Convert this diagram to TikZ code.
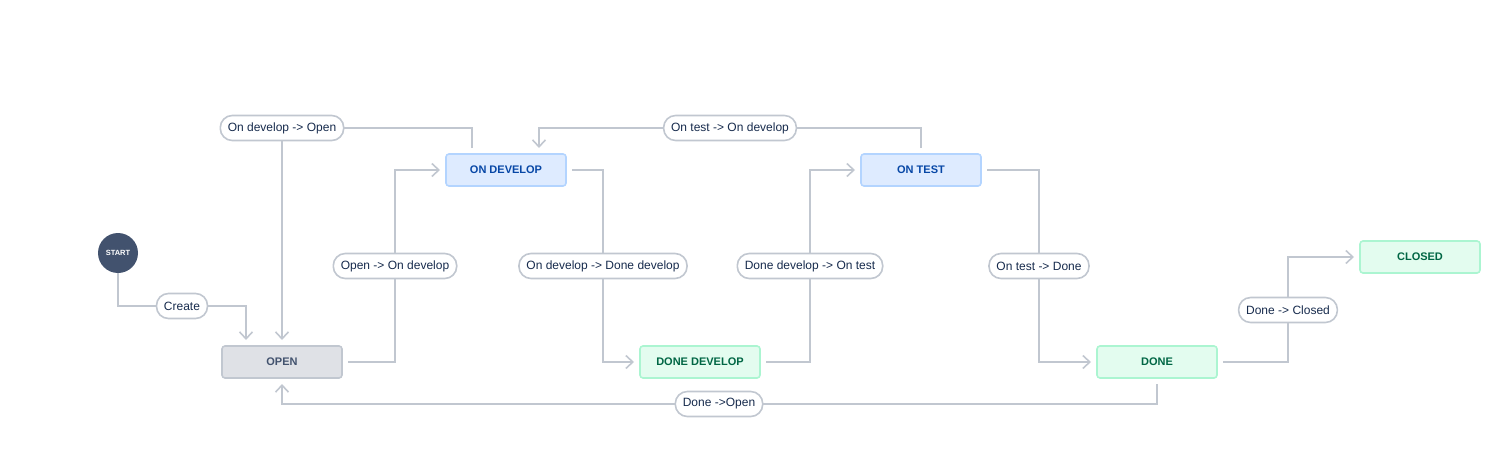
\documentclass[tikz,border=0pt]{standalone}
\usepackage{fontspec}
\setmainfont{Liberation Sans}
\usetikzlibrary{arrows.meta}
\definecolor{lineC}{HTML}{C1C7D0}
\definecolor{grayFill}{HTML}{DFE1E6}
\definecolor{grayText}{HTML}{42526E}
\definecolor{blueFill}{HTML}{DEEBFF}
\definecolor{blueLine}{HTML}{B3D4FF}
\definecolor{blueText}{HTML}{0747A6}
\definecolor{greenFill}{HTML}{E3FCEF}
\definecolor{greenLine}{HTML}{ABF5D1}
\definecolor{greenText}{HTML}{006644}
\definecolor{startFill}{HTML}{42526E}
\definecolor{labelText}{HTML}{172B4D}
\tikzset{
  state/.style={rectangle, rounded corners=3pt, line width=1.6pt, minimum width=120pt, minimum height=32pt,
    font=\fontsize{11}{13}\selectfont\bfseries, outer sep=6pt, inner sep=0pt},
  graystate/.style={state, draw=lineC, fill=grayFill, text=grayText},
  bluestate/.style={state, draw=blueLine, fill=blueFill, text=blueText},
  greenstate/.style={state, draw=greenLine, fill=greenFill, text=greenText},
  startnode/.style={circle, fill=startFill, minimum size=40pt, inner sep=0pt, text=white,
    font=\fontsize{7.5}{9}\selectfont\bfseries},
  lbl/.style={rectangle, rounded corners=12pt, draw=lineC, line width=1.6pt, fill=white, text=labelText,
    minimum height=25pt, inner xsep=7.5pt, inner ysep=0pt, font=\fontsize{12}{14}\selectfont},
  conn/.style={draw=lineC, line width=1.6pt, -{Straight Barb[length=7pt,width=13pt,line width=1.6pt]}},
}
\begin{document}
\begin{tikzpicture}[x=1pt,y=-1pt]
\useasboundingbox (0,0) rectangle (1505,460);
\node[startnode] (start) at (118,253) {START};
\node[graystate] (open) at (282,362) {OPEN};
\node[bluestate] (ondev) at (506,170) {ON DEVELOP};
\node[greenstate] (donedev) at (700,362) {DONE DEVELOP};
\node[bluestate] (ontest) at (921,170) {ON TEST};
\node[greenstate] (done) at (1157,362) {DONE};
\node[greenstate] (closed) at (1420,257) {CLOSED};

\draw[conn] (start) |- node[lbl,pos=0.75] (lCreate) {Create} (246,306) -- ([xshift=-36pt]open.north);
\draw[conn] ([xshift=-34pt]ondev.north) |- (282,128) node[lbl] (lDevOpen) {On develop -> Open} -- (open.north);
\draw[conn] (open.east) -| (395,266) node[lbl] (lOpenDev) {Open -> On develop} |- (ondev.west);
\draw[conn] (ondev.east) -| (603,266) node[lbl] (lDevDone) {On develop -> Done develop} |- (donedev.west);
\draw[conn] (donedev.east) -| (810,266) node[lbl] (lDoneTest) {Done develop -> On test} |- (ontest.west);
\draw[conn] (ontest.north) |- (730,128) node[lbl] (lTestDev) {On test -> On develop} -| ([xshift=33pt]ondev.north);
\draw[conn] (ontest.east) -| (1039,266) node[lbl] (lTestDone) {On test -> Done} |- (done.west);
\draw[conn] (done.east) -| (1288,310) node[lbl] (lDoneClosed) {Done -> Closed} |- (closed.west);
\draw[conn] (done.south) |- (719,404) node[lbl] (lDoneOpen) {Done ->Open} -| (open.south);
\end{tikzpicture}
\end{document}
